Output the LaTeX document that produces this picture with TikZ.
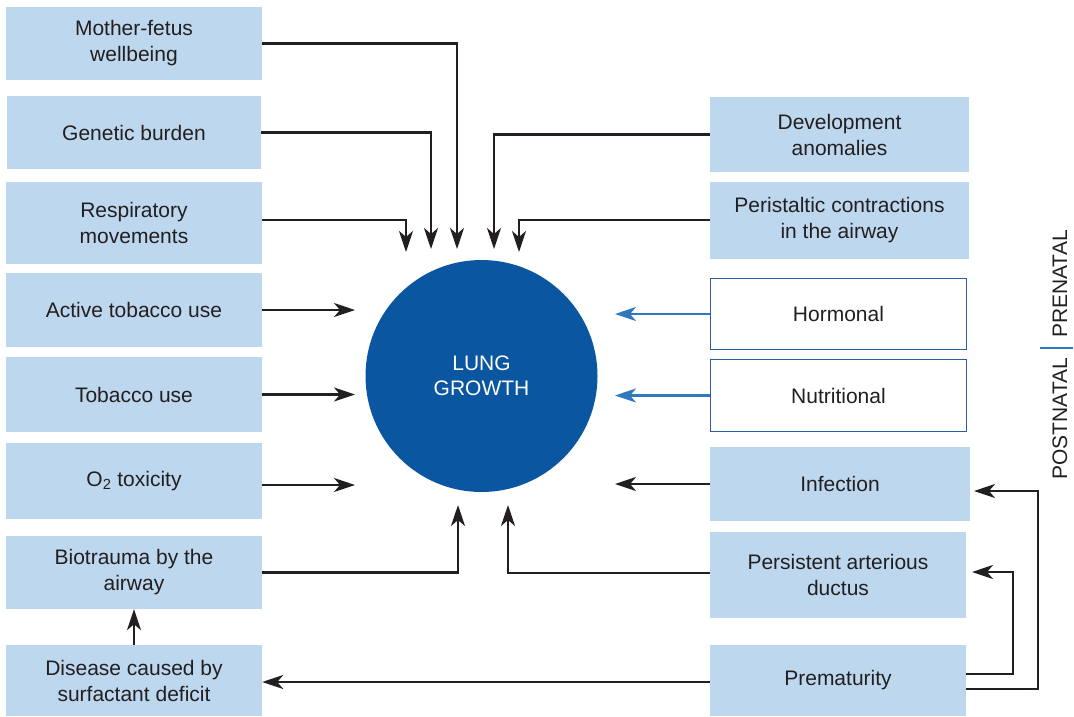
\documentclass[tikz,border=0pt]{standalone}
\usepackage{fontspec}
\setmainfont{Liberation Sans}
\usetikzlibrary{arrows.meta,calc}
\definecolor{boxfill}{RGB}{189,216,238}
\definecolor{circfill}{RGB}{11,86,160}
\definecolor{outl}{RGB}{44,92,165}
\definecolor{barrow}{RGB}{47,122,191}
\definecolor{txt}{RGB}{35,31,32}
\tikzset{
  fbox/.style={fill=boxfill, draw=none, align=center, text=txt, inner sep=0pt,
    font=\fontsize{21}{26}\selectfont},
  obox/.style={fill=white, draw=outl, line width=1.5pt, align=center, text=txt, inner sep=0pt,
    font=\fontsize{21}{26}\selectfont},
  arr/.style={draw=txt, line width=2.4pt, -{Stealth[length=21pt,width=14pt,inset=6pt]}},
  barr/.style={draw=barrow, line width=2.4pt, -{Stealth[length=21pt,width=14pt,inset=6pt]}},
  sidelbl/.style={text=txt, inner sep=0pt, rotate=90, font=\fontsize{21}{26}\selectfont}
}
\begin{document}
\begin{tikzpicture}[x=1pt,y=-1pt]
\useasboundingbox (0,0) rectangle (1074,716);
% left boxes
\node[fbox, minimum width=256, minimum height=73] (mf) at (134,43.5) {Mother-fetus\\wellbeing};
\node[fbox, minimum width=254, minimum height=73] (gb) at (134,132.5) {Genetic burden};
\node[fbox, minimum width=256, minimum height=82] (rm) at (134,223) {Respiratory\\movements};
\node[fbox, minimum width=256, minimum height=74] (at) at (134,310) {Active tobacco use};
\node[fbox, minimum width=256, minimum height=75] (tu) at (134,394.5) {Tobacco use};
\node[fbox, minimum width=256, minimum height=76] (ox) at (134,481) {O\textsubscript{2} toxicity};
\node[fbox, minimum width=256, minimum height=73] (bt) at (134,572.5) {Biotrauma by the\\airway};
\node[fbox, minimum width=256, minimum height=71] (ds) at (134,680.5) {Disease caused by\\surfactant deficit};
% right boxes
\node[fbox, minimum width=259, minimum height=75] (da) at (839.5,134.5) {Development\\anomalies};
\node[fbox, minimum width=259, minimum height=77] (pc) at (839.5,220.5) {Peristaltic contractions\\in the airway};
\node[obox, minimum width=256, minimum height=71] (ho) at (838.5,314) {Hormonal};
\node[obox, minimum width=256, minimum height=72] (nu) at (838.5,395.5) {Nutritional};
\node[fbox, minimum width=260, minimum height=74] (in) at (840,484) {Infection};
\node[fbox, minimum width=256, minimum height=86] (pa) at (838,575) {Persistent arterious\\ductus};
\node[fbox, minimum width=256, minimum height=71] (pr) at (838,680.5) {Prematurity};
% circle
\node[circle, fill=circfill, minimum size=232, inner sep=0pt, align=center, text=white,
  font=\fontsize{21}{25}\selectfont] (lg) at (481.5,376) {LUNG\\GROWTH};
% tip coordinates
\coordinate (tmf) at (457,249);
\coordinate (tgb) at (431,249);
\coordinate (trm) at (406,252);
\coordinate (tda) at (494,249);
\coordinate (tpc) at (519,252);
\coordinate (tL) at (355,0);
\coordinate (tR) at (615,0);
\coordinate (tbt) at (458,505);
\coordinate (tpa) at (508,505);
\coordinate (xo) at (1038,0);
\coordinate (xi) at (1013,0);
\coordinate (tin) at (974,491);
\coordinate (tpa2) at (972,572);
% arrows from top
\draw[arr] (mf.east) -| (tmf);
\draw[arr] (gb.east) -| (tgb);
\draw[arr] ($(rm.east)+(0,-3)$) -| (trm);
\draw[arr] (da.west) -| (tda);
\draw[arr] ($(pc.west)+(0,-0.5)$) -| (tpc);
% horizontal arrows left
\draw[arr] (at.east) -- (at.east -| tL);
\draw[arr] (tu.east) -- (tu.east -| tL);
\draw[arr] ($(ox.east)+(0,4)$) -- ($(ox.east -| tL)+(0,4)$);
% horizontal arrows right
\draw[barr] (ho.west) -- (ho.west -| tR);
\draw[barr] (nu.west) -- (nu.west -| tR);
\draw[arr] (in.west) -- (in.west -| tR);
% from bottom
\draw[arr] (bt.east) -| (tbt);
\draw[arr] ($(pa.west)+(0,-2)$) -| (tpa);
% prematurity
\draw[arr] ($(pr.west)+(0,1.5)$) -- ($(ds.east |- pr.west)+(0,1.5)$);
\draw[arr] (ds.north) -- (bt.south);
\draw[arr] ($(pr.east)+(0,8.5)$) -- ($(pr.east -| xo)+(0,8.5)$) -- (xo |- tin) -- (tin);
\draw[arr] ($(pr.east)+(0,-6.5)$) -- ($(pr.east -| xi)+(0,-6.5)$) -- (xi |- tpa2) -- (tpa2);
% side labels
\node[sidelbl] (pre) at (1060,284) {PRENATAL};
\node[sidelbl] (post) at (1060,418.5) {POSTNATAL};
\coordinate (sb1) at (1040,348);
\coordinate (sb2) at (1073,348);
\draw[draw=barrow, line width=2pt] (sb1) -- (sb2);
\end{tikzpicture}
\end{document}
